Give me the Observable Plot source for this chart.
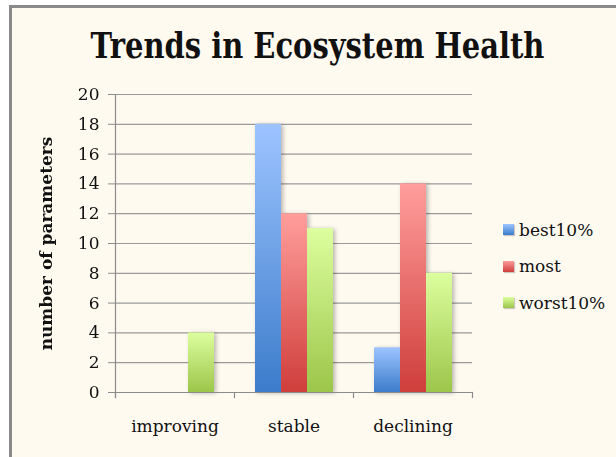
<!DOCTYPE html>
<html>
<head>
<meta charset="utf-8">
<script src="https://cdn.jsdelivr.net/npm/d3@7"></script>
<script src="https://cdn.jsdelivr.net/npm/@observablehq/plot@0.6"></script>
<style>
  html, body { margin: 0; padding: 0; background: #ffffff; width: 616px; height: 457px; overflow: hidden; }
  #panel { position: absolute; left: 9px; top: 5px; width: 607px; height: 452px; background: #fffaf0;
           border-left: 3px solid #8a8a8a; border-top: 3px solid #8a8a8a; box-sizing: border-box; }
  #chart { position: absolute; left: 0; top: 0; }
  #chart svg { background: transparent; font-family: "DejaVu Serif", serif; color: #111; }
  #chart g[aria-label="y-axis label"] text { font-weight: bold; }
  #chart g[aria-label="bar"] { filter: drop-shadow(2px 1px 2px rgba(0,0,0,0.28)); }
  #title { position: absolute; left: 0; top: 28px; width: 635px; text-align: center;
           font-family: "DejaVu Serif Condensed", "DejaVu Serif", serif; font-stretch: condensed;
           font-weight: bold; font-size: 35px; line-height: 35px; color: #111; white-space: nowrap;
           transform: scaleX(0.92); transform-origin: 317.5px 50%; }
  .leg { position: absolute; left: 503px; height: 20px; display: flex; align-items: center;
         font-family: "DejaVu Serif", serif; font-size: 17px; color: #111; white-space: nowrap; }
  .leg .sw { width: 11px; height: 11px; margin-right: 5px; box-shadow: 1px 1px 1px rgba(0,0,0,0.2); }
</style>
</head>
<body>
<div id="panel"></div>
<div id="chart"></div>
<div id="title">Trends in Ecosystem Health</div>
<div id="legend"></div>
<script>
// ---- data ----
const categories = ["improving", "stable", "declining"];
const series = ["best10%", "most", "worst10%"];
const best10 = [0, 18, 3];
const most = [0, 12, 14];
const worst10 = [4, 11, 8];
const yTicks = [0, 2, 4, 6, 8, 10, 12, 14, 16, 18, 20];
const titleText = "Trends in Ecosystem Health";
const yLabel = "number of parameters";

// gradient colours (top, bottom) per series
const gradTop = ["#9dc4ff", "#ff9e9c", "#ddfe9e"];
const gradBottom = ["#3c7ccb", "#cf3e3b", "#9cc64a"];
const gradIds = ["gBest", "gMost", "gWorst"];

const seriesValues = [best10, most, worst10];
const rows = [];
categories.forEach((c, ci) => {
  series.forEach((s, si) => {
    rows.push({category: c, series: s, value: seriesValues[si][ci]});
  });
});

const W = 616, H = 457;
const plot = Plot.plot({
  width: W,
  height: H,
  marginLeft: 115,
  marginRight: 144,
  marginTop: 94,
  marginBottom: 65,
  fx: {domain: categories, padding: 0, label: null},
  x: {domain: series, paddingInner: 0, paddingOuter: 0.73, axis: null},
  y: {domain: [0, 20], label: null},
  color: {domain: series, range: gradIds.map(id => `url(#${id})`)},
  style: {fontSize: "17px", fontFamily: "DejaVu Serif, serif", background: "transparent"},
  marks: [
    Plot.gridY(yTicks, {stroke: "#9a9a9a", strokeOpacity: 1, strokeWidth: 1.2}),
    Plot.barY(rows, {fx: "category", x: "series", y: "value", fill: "series"}),
    Plot.ruleY([0], {stroke: "#8c8c8c", strokeWidth: 1.2}),
    Plot.frame({anchor: "left", facetAnchor: "left", insetBottom: -5, stroke: "#8c8c8c", strokeWidth: 1.2}),
    Plot.frame({anchor: "left", insetTop: 298, insetBottom: -5, stroke: "#8c8c8c", strokeWidth: 1.2}),
    Plot.frame({anchor: "right", facetAnchor: "right", insetTop: 298, insetBottom: -5, stroke: "#8c8c8c", strokeWidth: 1.2}),
    Plot.axisY({ticks: yTicks, tickSize: 7, tickPadding: 9, stroke: "#8c8c8c", fill: "#111",
                label: yLabel, labelAnchor: "center", labelOffset: 76, labelArrow: "none"}),
    Plot.axisFx({anchor: "bottom", tickSize: 0, tickPadding: 27, label: null, fill: "#111"})
  ]
});

// gradient definitions, each relative to its own bar
const svg = d3.select(plot);
const defs = svg.insert("defs", ":first-child");
gradIds.forEach((id, i) => {
  const g = defs.append("linearGradient").attr("id", id)
    .attr("x1", 0).attr("y1", 1).attr("x2", 0).attr("y2", 0);
  g.append("stop").attr("offset", "0%").attr("stop-color", gradBottom[i]);
  g.append("stop").attr("offset", "100%").attr("stop-color", gradTop[i]);
});
document.getElementById("chart").appendChild(plot);
document.getElementById("title").textContent = titleText;

// legend built from the same series / colour arrays
const legend = document.getElementById("legend");
const legendTops = [219.5, 256, 292.5];
series.forEach((s, i) => {
  const item = document.createElement("div");
  item.className = "leg";
  item.style.top = legendTops[i] + "px";
  const sw = document.createElement("div");
  sw.className = "sw";
  sw.style.background = `linear-gradient(to top, ${gradBottom[i]}, ${gradTop[i]})`;
  const label = document.createElement("span");
  label.textContent = s;
  item.appendChild(sw);
  item.appendChild(label);
  legend.appendChild(item);
});
</script>
</body>
</html>
